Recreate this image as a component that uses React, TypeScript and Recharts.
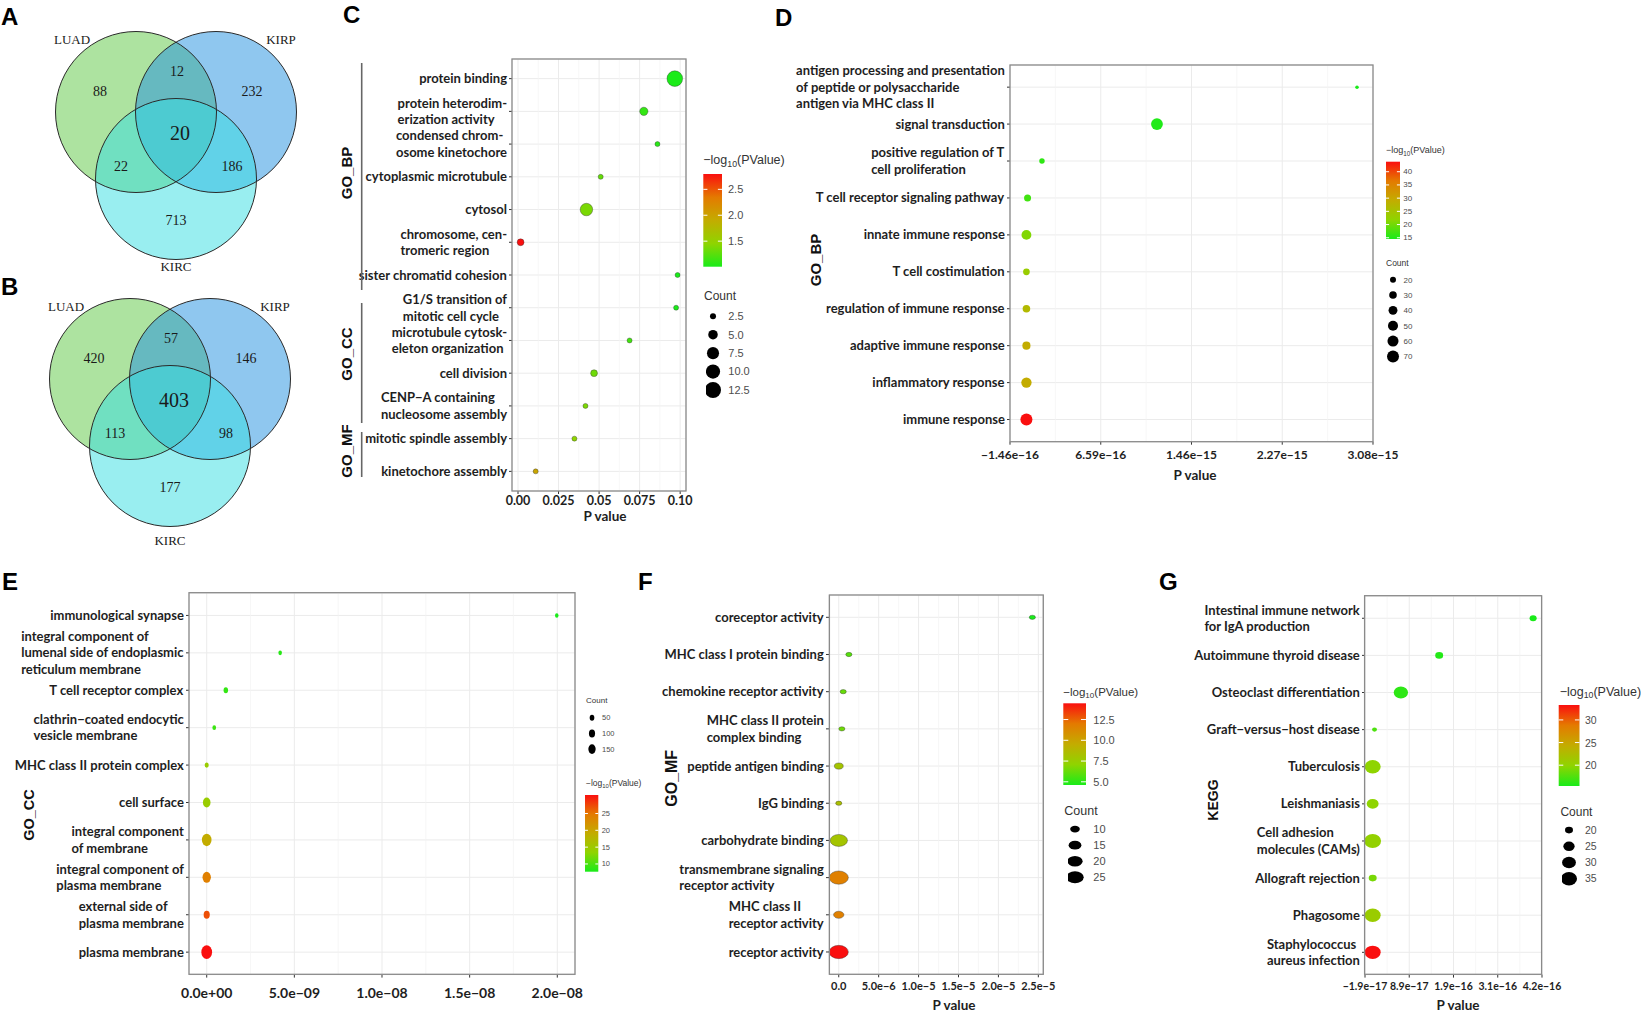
import React from "react";
import {
  CartesianGrid,
  ReferenceLine,
  Scatter,
  ScatterChart,
  XAxis,
  YAxis,
  ZAxis,
} from "recharts";

const M = "\u2212";

// ---- Venn data (region order: LUAD only, LUAD&KIRP, KIRP only, LUAD&KIRC, all, KIRP&KIRC, KIRC only)
const VENN_SETS = ["LUAD", "KIRP", "KIRC"];
const VENN_A_COUNTS = [88, 12, 232, 22, 20, 186, 713];
const VENN_B_COUNTS = [420, 57, 146, 113, 403, 98, 177];

// ---- C: GO terms
const C_TERMS = [
  "protein binding",
  "protein heterodim-\nerization activity",
  "condensed chrom-\nosome kinetochore",
  "cytoplasmic microtubule",
  "cytosol",
  "chromosome, cen-\ntromeric region",
  "sister chromatid cohesion",
  "G1/S transition of\nmitotic cell cycle",
  "microtubule cytosk-\neleton organization",
  "cell division",
  `CENP${M}A containing\nnucleosome assembly`,
  "mitotic spindle assembly",
  "kinetochore assembly",
];
const C_PVALUES = [0.0967, 0.0776, 0.086, 0.051, 0.0422, 0.0016, 0.0984, 0.0975, 0.0688, 0.0469, 0.0416, 0.0348, 0.0109];
const C_COUNTS = [12, 4, 2, 2, 8, 3, 2, 2, 2, 3, 2, 2, 2];
const C_X_TICKS = [0, 0.025, 0.05, 0.075, 0.1];
const C_X_LABELS = ["0.00", "0.025", "0.05", "0.075", "0.10"];
const C_BAR_TICKS = [1.5, 2.0, 2.5];
const C_BAR_LABELS = ["1.5", "2.0", "2.5"];
const C_SIZE_KEYS = [2.5, 5, 7.5, 10, 12.5];
const C_SIZE_LABELS = ["2.5", "5.0", "7.5", "10.0", "12.5"];

// ---- D: GO_BP
const D_TERMS = [
  "antigen processing and presentation\nof peptide or polysaccharide\nantigen via MHC class II",
  "signal transduction",
  "positive regulation of T\ncell proliferation",
  "T cell receptor signaling pathway",
  "innate immune response",
  "T cell costimulation",
  "regulation of immune response",
  "adaptive immune response",
  "inflammatory response",
  "immune response",
];
const D_PVALUES = [2.938e-15, 1.16e-15, 1.38e-16, 1e-17, 1e-21, 5e-24, 1.6e-27, 6e-30, 6e-30, 1.6e-44];
const D_COUNTS = [9, 68, 17, 26, 48, 24, 30, 34, 53, 70];
const D_X_LABELS = [`${M}1.46e${M}16`, `6.59e${M}16`, `1.46e${M}15`, `2.27e${M}15`, `3.08e${M}15`];
const D_BAR_TICKS = [15, 20, 25, 30, 35, 40];
const D_BAR_LABELS = ["15", "20", "25", "30", "35", "40"];
const D_SIZE_KEYS = [20, 30, 40, 50, 60, 70];
const D_SIZE_LABELS = ["20", "30", "40", "50", "60", "70"];

// ---- E: GO_CC
const E_TERMS = [
  "immunological synapse",
  "integral component of\nlumenal side of endoplasmic\nreticulum membrane",
  "T cell receptor complex",
  `clathrin${M}coated endocytic\nvesicle membrane`,
  "MHC class II protein complex",
  "cell surface",
  "integral component\nof membrane",
  "integral component of\nplasma membrane",
  "external side of\nplasma membrane",
  "plasma membrane",
];
const E_PVALUES = [1.997e-8, 4.19e-9, 1.09e-9, 4.3e-10, 3e-15, 3e-15, 8e-20, 8e-25, 8e-28, 3.2e-31];
const E_COUNTS = [20, 22, 45, 25, 35, 162, 269, 202, 99, 340];
const E_X_TICKS = [0, 5e-9, 1e-8, 1.5e-8, 2e-8];
const E_X_LABELS = ["0.0e+00", `5.0e${M}09`, `1.0e${M}08`, `1.5e${M}08`, `2.0e${M}08`];
const E_BAR_TICKS = [10, 15, 20, 25];
const E_BAR_LABELS = ["10", "15", "20", "25"];
const E_SIZE_KEYS = [50, 100, 150];
const E_SIZE_LABELS = ["50", "100", "150"];

// ---- F: GO_MF
const F_TERMS = [
  "coreceptor activity",
  "MHC class I protein binding",
  "chemokine receptor activity",
  "MHC class II protein\ncomplex binding",
  "peptide antigen binding",
  "IgG binding",
  "carbohydrate binding",
  "transmembrane signaling\nreceptor activity",
  "MHC class II\nreceptor activity",
  "receptor activity",
];
const F_PVALUES = [2.425e-5, 1.27e-6, 5.6e-7, 3.9e-7, 8.7e-9, 4.5e-9, 8.7e-9, 2e-12, 2e-12, 3.5e-15];
const F_COUNTS = [6, 6, 6, 6, 9, 6, 25, 30, 11, 30];
const F_X_TICKS = [0, 5e-6, 1e-5, 1.5e-5, 2e-5, 2.5e-5];
const F_X_LABELS = ["0.0", `5.0e${M}6`, `1.0e${M}5`, `1.5e${M}5`, `2.0e${M}5`, `2.5e${M}5`];
const F_BAR_TICKS = [5, 7.5, 10, 12.5];
const F_BAR_LABELS = ["5.0", "7.5", "10.0", "12.5"];
const F_SIZE_KEYS = [10, 15, 20, 25];
const F_SIZE_LABELS = ["10", "15", "20", "25"];

// ---- G: KEGG
const G_TERMS = [
  "Intestinal immune network\nfor IgA production",
  "Autoimmune thyroid disease",
  "Osteoclast differentiation",
  `Graft${M}versus${M}host disease`,
  "Tuberculosis",
  "Leishmaniasis",
  "Cell adhesion\nmolecules (CAMs)",
  "Allograft rejection",
  "Phagosome",
  "Staphylococcus\naureus infection",
];
const G_PVALUES = [3.98e-16, 1.65e-16, 7.0e-17, 4.6e-18, 1.3e-20, 1.3e-20, 6e-21, 1e-19, 1.6e-21, 5e-34];
const G_COUNTS = [19, 20, 31, 17, 35, 26, 37, 20, 35, 35];
const G_X_LABELS = [`${M}1.9e${M}17`, `8.9e${M}17`, `1.9e${M}16`, `3.1e${M}16`, `4.2e${M}16`];
const G_BAR_TICKS = [20, 25, 30];
const G_BAR_LABELS = ["20", "25", "30"];
const G_SIZE_KEYS = [20, 25, 30, 35];
const G_SIZE_LABELS = ["20", "25", "30", "35"];

// ---------------- layout & style ----------------
const LABEL_FONT = "Lato, 'Liberation Sans', sans-serif";
const LEGEND_FONT = "'Liberation Sans', Arial, sans-serif";
const SERIF = "'Liberation Serif', 'DejaVu Serif', serif";

const VENN_FILLS = ["#5cc742", "#1f90e0", "#33dde2"];
const VENN_R = 80.5;
const VENN_CIRCLE_OFFSETS = [[-40, 0], [40, 0], [0, 67]];
const VENN_REGION_OFFSETS = [[-76, -21], [1, -41], [76, -21], [-55, 54], [4, 21], [56, 54], [0, 108]];

const RAMP: [number, number[]][] = [
  [0, [25, 235, 25]],
  [0.25, [143, 212, 0]],
  [0.5, [195, 172, 0]],
  [0.75, [228, 122, 0]],
  [1, [250, 15, 15]],
];

function rampColor(t: number) {
  const u = Math.max(0, Math.min(1, t));
  for (let i = 1; i < RAMP.length; i++) {
    const [t1, c1] = RAMP[i];
    const [t0, c0] = RAMP[i - 1];
    if (u <= t1) {
      const k = (u - t0) / (t1 - t0);
      const c = c0.map((v, j) => Math.round(v + (c1[j] - v) * k));
      return `rgb(${c[0]},${c[1]},${c[2]})`;
    }
  }
  return "rgb(250,15,15)";
}

function evenTicks(domain: number[], n: number) {
  const [a, b] = domain;
  return Array.from({ length: n }, (_, i) => (i === n - 1 ? b : a + ((b - a) * i) / (n - 1)));
}

function midpoints(ticks: number[]) {
  return ticks.slice(1).map((t, i) => (t + ticks[i]) / 2);
}

let measureCtx: CanvasRenderingContext2D | null = null;
function textWidth(s: string, size: number) {
  if (!measureCtx) measureCtx = document.createElement("canvas").getContext("2d");
  if (!measureCtx) return s.length * size * 0.5;
  measureCtx.font = `700 ${size}px Lato`;
  return measureCtx.measureText(s).width;
}

const C_LAYOUT = {
  plot: { x: 512, y: 59, w: 174, h: 432 },
  yw: 160, xDomain: [-0.0037, 0.1036], tickFont: 12.5, tickMargin: 2, labelFont: 13,
  size: { a0: -14.9, slope: 17.27, ax: 1, ay: 1 }, outline: true,
  title: { x: 605, y: 516 },
  bar: { x: 703.3, y: 174, w: 18.7, h: 92.7, labelX: 728, font: 11 },
  barTitle: { x: 703.3, y: 160, font: 12.5 },
  countTitle: { x: 704, y: 296, font: 12 },
  keys: { x: 712.7, y0: 316, step: 18.45, labelX: 728, font: 11 },
};
const D_LAYOUT = {
  plot: { x: 1010, y: 65, w: 363, h: 376.7 },
  yw: 215, xDomain: [-1.46e-16, 3.08e-15], tickFont: 12, tickMargin: 6, labelFont: 13,
  size: { a0: -5.6, slope: 1.696, ax: 1, ay: 1 }, outline: false,
  title: { x: 1195, y: 475 },
  bar: { x: 1386, y: 161.7, w: 14, h: 77.3, labelX: 1403.3, font: 8 },
  barTitle: { x: 1386, y: 150, font: 9 },
  countTitle: { x: 1386, y: 262.7, font: 8.5 },
  keys: { x: 1392.7, y0: 280, step: 15.35, labelX: 1403.3, font: 8 },
};
const E_LAYOUT = {
  plot: { x: 189, y: 592.7, w: 386, h: 381.6 },
  yw: 180, xDomain: [-1.01e-9, 2.101e-8], tickFont: 14, tickMargin: 10, labelFont: 13,
  size: { a0: 4.5, slope: 0.252, ax: 1, ay: 1.3 }, outline: false,
  title: null,
  bar: { x: 585, y: 795, w: 13.3, h: 76.7, labelX: 601.7, font: 7.5 },
  barTitle: { x: 586, y: 783.3, font: 8.5 },
  countTitle: { x: 586, y: 700.7, font: 8 },
  keys: { x: 591.7, y0: 717.7, step: 15.65, labelX: 601.7, font: 7.5 },
};
const F_LAYOUT = {
  plot: { x: 829.4, y: 595, w: 213.9, h: 379.3 },
  yw: 175, xDomain: [-1.22e-6, 2.557e-5], tickFont: 11, tickMargin: 5, labelFont: 13,
  size: { a0: -17, slope: 5.2, ax: 1.45, ay: 1 }, outline: true,
  title: { x: 954, y: 1005 },
  bar: { x: 1063.3, y: 703.3, w: 22.7, h: 81.7, labelX: 1093.3, font: 11 },
  barTitle: { x: 1063.3, y: 691.7, font: 11.5 },
  countTitle: { x: 1064.3, y: 810.7, font: 12.5 },
  keys: { x: 1075, y0: 829, step: 16.1, labelX: 1093.3, font: 11 },
};
const G_LAYOUT = {
  plot: { x: 1364.6, y: 595.7, w: 177, h: 378.6 },
  yw: 180, xDomain: [-1.9e-17, 4.2e-16], tickFont: 10.5, tickMargin: 5, labelFont: 13,
  size: { a0: -106.6, slope: 7.05, ax: 1.2, ay: 1 }, outline: false,
  title: { x: 1458, y: 1005 },
  bar: { x: 1558.7, y: 705, w: 20.8, h: 81, labelX: 1585, font: 10.5 },
  barTitle: { x: 1559.7, y: 691.7, font: 12.5 },
  countTitle: { x: 1560.4, y: 812, font: 12 },
  keys: { x: 1569, y0: 830.3, step: 16.2, labelX: 1585, font: 10.5 },
};

const PANELS = [
  { id: "C", terms: C_TERMS, pvalues: C_PVALUES, counts: C_COUNTS, xTicks: C_X_TICKS, xLabels: C_X_LABELS,
    barTicks: C_BAR_TICKS, barLabels: C_BAR_LABELS, keys: C_SIZE_KEYS, keyLabels: C_SIZE_LABELS, layout: C_LAYOUT },
  { id: "D", terms: D_TERMS, pvalues: D_PVALUES, counts: D_COUNTS, xTicks: evenTicks(D_LAYOUT.xDomain, D_X_LABELS.length), xLabels: D_X_LABELS,
    barTicks: D_BAR_TICKS, barLabels: D_BAR_LABELS, keys: D_SIZE_KEYS, keyLabels: D_SIZE_LABELS, layout: D_LAYOUT },
  { id: "E", terms: E_TERMS, pvalues: E_PVALUES, counts: E_COUNTS, xTicks: E_X_TICKS, xLabels: E_X_LABELS,
    barTicks: E_BAR_TICKS, barLabels: E_BAR_LABELS, keys: E_SIZE_KEYS, keyLabels: E_SIZE_LABELS, layout: E_LAYOUT },
  { id: "F", terms: F_TERMS, pvalues: F_PVALUES, counts: F_COUNTS, xTicks: F_X_TICKS, xLabels: F_X_LABELS,
    barTicks: F_BAR_TICKS, barLabels: F_BAR_LABELS, keys: F_SIZE_KEYS, keyLabels: F_SIZE_LABELS, layout: F_LAYOUT },
  { id: "G", terms: G_TERMS, pvalues: G_PVALUES, counts: G_COUNTS, xTicks: evenTicks(G_LAYOUT.xDomain, G_X_LABELS.length), xLabels: G_X_LABELS,
    barTicks: G_BAR_TICKS, barLabels: G_BAR_LABELS, keys: G_SIZE_KEYS, keyLabels: G_SIZE_LABELS, layout: G_LAYOUT },
];

const PANEL_LETTERS: [string, number, number][] = [
  ["A", 1, 25], ["B", 1, 295], ["C", 343, 23], ["D", 775, 26], ["E", 2, 590], ["F", 638, 590], ["G", 1159, 590],
];

const GROUP_LABELS = [
  { text: "GO_BP", x: 346, y: 173, size: 15, bracket: [63, 290], bx: 361.7 },
  { text: "GO_CC", x: 346, y: 354, size: 15, bracket: [303, 423], bx: 361.7 },
  { text: "GO_MF", x: 346, y: 451, size: 15, bracket: [432, 477], bx: 361.7 },
  { text: "GO_BP", x: 815.5, y: 260, size: 15 },
  { text: "GO_CC", x: 28.7, y: 815, size: 14.5 },
  { text: "GO_MF", x: 671.7, y: 778.3, size: 16 },
  { text: "KEGG", x: 1212.8, y: 800, size: 14 },
];

// ---------------- pieces ----------------
function RowTick(props: any) {
  const { x, y, payload, terms, fontSize } = props;
  const label: string = terms[Math.round(payload.value)] ?? "";
  const lines = label.split("\n");
  const bw = Math.max(...lines.map((l) => textWidth(l, fontSize)));
  const lh = fontSize * 1.27;
  return (
    <g>
      {lines.map((l, i) => (
        <text
          key={i}
          x={x - bw}
          y={y + (i - (lines.length - 1) / 2) * lh}
          dy="0.35em"
          textAnchor="start"
          style={{ fontFamily: LABEL_FONT, fontWeight: 700, fontSize, fill: "#1e1e1e" }}
        >
          {l}
        </text>
      ))}
    </g>
  );
}

function bubbleShape(vmin: number, vmax: number, ax: number, ay: number, outline: boolean, black = false) {
  return (props: any) => {
    const { cx, cy, payload } = props;
    if (cx == null || cy == null) return <g />;
    const r = props.width ? props.width / 2 : Math.sqrt(Math.max(props.size || 0, 0) / Math.PI);
    const fill = black ? "#000" : rampColor((payload.logp - vmin) / (vmax - vmin));
    return (
      <ellipse
        cx={cx}
        cy={cy}
        rx={r * ax}
        ry={r * ay}
        fill={fill}
        stroke={outline && !black ? "rgba(50,50,50,0.55)" : "none"}
        strokeWidth={0.7}
      />
    );
  };
}

function logRange(pvalues: number[]) {
  const logs = pvalues.map((p) => -Math.log10(p));
  return [Math.min(...logs), Math.max(...logs)];
}

function BubblePanel({ panel }: { panel: any }) {
  const L = panel.layout;
  const n = panel.terms.length;
  const data = panel.terms.map((term: string, i: number) => ({
    term,
    row: i,
    p: panel.pvalues[i],
    count: panel.counts[i],
    logp: -Math.log10(panel.pvalues[i]),
  }));
  const [vmin, vmax] = logRange(panel.pvalues);
  const cmin = Math.min(...panel.counts);
  const cmax = Math.max(...panel.counts);
  const area = (c: number) => L.size.a0 + L.size.slope * c;
  const rows = data.map((d: any) => d.row);
  const top = 24;
  const bottom = 46;
  const right = 40;
  return (
    <div style={{ position: "absolute", left: L.plot.x - L.yw, top: L.plot.y - top }}>
      <ScatterChart
        width={L.yw + L.plot.w + right}
        height={top + L.plot.h + bottom}
        margin={{ top, right, bottom: 0, left: 0 }}
      >
        <CartesianGrid stroke="#ebebeb" strokeWidth={1} />
        {midpoints(panel.xTicks).map((v: number) => (
          <ReferenceLine key={v} x={v} stroke="#f3f3f3" strokeWidth={0.7} />
        ))}
        <XAxis
          type="number"
          dataKey="p"
          domain={L.xDomain}
          ticks={panel.xTicks}
          interval={0}
          height={bottom}
          axisLine={false}
          tickSize={3}
          tickMargin={L.tickMargin}
          tickLine={{ stroke: "#333" }}
          tick={{ fontFamily: LABEL_FONT, fontWeight: 700, fontSize: L.tickFont, fill: "#1e1e1e" }}
          tickFormatter={(_v: any, i: number) => panel.xLabels[i] ?? ""}
        />
        <YAxis
          type="number"
          dataKey="row"
          domain={[-0.6, n - 0.4]}
          reversed
          ticks={rows}
          interval={0}
          width={L.yw}
          axisLine={false}
          tickSize={3}
          tickMargin={2}
          tickLine={{ stroke: "#333" }}
          tick={(props: any) => <RowTick {...props} terms={panel.terms} fontSize={L.labelFont} />}
        />
        <ZAxis type="number" dataKey="count" domain={[cmin, cmax]} range={[area(cmin), area(cmax)]} />
        <Scatter
          data={data}
          isAnimationActive={false}
          shape={bubbleShape(vmin, vmax, L.size.ax, L.size.ay, L.outline)}
        />
      </ScatterChart>
    </div>
  );
}

function SizeKeys({ panel }: { panel: any }) {
  const L = panel.layout;
  const K = L.keys;
  const n = panel.keys.length;
  const data = panel.keys.map((k: number, i: number) => ({ x: 0.5, y: i, count: k }));
  const kmin = Math.min(...panel.keys);
  const kmax = Math.max(...panel.keys);
  const area = (c: number) => L.size.a0 + L.size.slope * c;
  const half = 7;
  return (
    <div style={{ position: "absolute", left: K.x - half, top: K.y0 - K.step / 2 }}>
      <ScatterChart width={half * 2 + 40} height={n * K.step} margin={{ top: 0, right: 0, bottom: 0, left: 0 }}>
        <XAxis type="number" dataKey="x" domain={[0, 1]} hide height={0} />
        <YAxis
          type="number"
          dataKey="y"
          orientation="right"
          domain={[-0.5, n - 0.5]}
          reversed
          ticks={data.map((d: any) => d.y)}
          interval={0}
          width={40}
          axisLine={false}
          tickLine={false}
          tickSize={0}
          tickMargin={K.labelX - K.x - half}
          tick={{ fontFamily: LEGEND_FONT, fontSize: K.font, fill: "#4d4d4d" }}
          tickFormatter={(_v: any, i: number) => panel.keyLabels[i] ?? ""}
        />
        <ZAxis type="number" dataKey="count" domain={[kmin, kmax]} range={[area(kmin), area(kmax)]} />
        <Scatter data={data} isAnimationActive={false} shape={bubbleShape(0, 1, L.size.ax, L.size.ay, false, true)} />
      </ScatterChart>
    </div>
  );
}

function VennChart({ counts, origin, kircOffset }: { counts: number[]; origin: number[]; kircOffset: number }) {
  const W = 340;
  const H = 300;
  const up = 120;
  const nameOffsets = [[-104, -73], [105, -73], [0, kircOffset]];
  const circles = VENN_SETS.map((set, i) => ({ set, x: VENN_CIRCLE_OFFSETS[i][0], y: VENN_CIRCLE_OFFSETS[i][1] }));
  const regions = counts.map((c, i) => ({ label: String(c), center: i === 4, x: VENN_REGION_OFFSETS[i][0], y: VENN_REGION_OFFSETS[i][1] }));
  const names = VENN_SETS.map((set, i) => ({ label: set, x: nameOffsets[i][0], y: nameOffsets[i][1] }));
  return (
    <div style={{ position: "absolute", left: origin[0] - W / 2, top: origin[1] - up }}>
      <ScatterChart width={W} height={H} margin={{ top: 0, right: 0, bottom: 0, left: 0 }}>
        <XAxis type="number" dataKey="x" domain={[-W / 2, W / 2]} hide height={0} />
        <YAxis type="number" dataKey="y" domain={[-up, H - up]} reversed hide width={0} />
        <Scatter
          data={circles}
          isAnimationActive={false}
          shape={(p: any) => (
            <circle cx={p.cx} cy={p.cy} r={VENN_R} fill={VENN_FILLS[VENN_SETS.indexOf(p.payload.set)]} fillOpacity={0.5} />
          )}
        />
        <Scatter
          data={circles}
          isAnimationActive={false}
          shape={(p: any) => <circle cx={p.cx} cy={p.cy} r={VENN_R} fill="none" stroke="#2a2a2a" strokeWidth={1} />}
        />
        <Scatter
          data={regions}
          isAnimationActive={false}
          shape={(p: any) => (
            <text
              x={p.cx}
              y={p.cy}
              textAnchor="middle"
              dominantBaseline="central"
              style={{ fontFamily: SERIF, fontSize: p.payload.center ? 20 : 14, fill: "#1a1a1a" }}
            >
              {p.payload.label}
            </text>
          )}
        />
        <Scatter
          data={names}
          isAnimationActive={false}
          shape={(p: any) => (
            <text
              x={p.cx}
              y={p.cy}
              textAnchor="middle"
              dominantBaseline="central"
              style={{ fontFamily: SERIF, fontSize: 13, fill: "#1a1a1a" }}
            >
              {p.payload.label}
            </text>
          )}
        />
      </ScatterChart>
    </div>
  );
}

function LogTitle({ x, y, size }: { x: number; y: number; size: number }) {
  return (
    <text x={x} y={y} dominantBaseline="central" style={{ fontFamily: LEGEND_FONT, fontSize: size, fill: "#333" }}>
      {`${M}log`}
      <tspan fontSize={size * 0.7} dy={size * 0.28}>10</tspan>
      <tspan dy={-size * 0.28}>(PValue)</tspan>
    </text>
  );
}

function Legend({ panel }: { panel: any }) {
  const L = panel.layout;
  const B = L.bar;
  const [vmin, vmax] = logRange(panel.pvalues);
  const gid = `grad${panel.id}`;
  const yOf = (v: number) => B.y + ((vmax - v) / (vmax - vmin)) * B.h;
  return (
    <g>
      <defs>
        <linearGradient id={gid} x1="0" y1="1" x2="0" y2="0">
          {RAMP.map(([t]) => (
            <stop key={t} offset={t} stopColor={rampColor(t)} />
          ))}
        </linearGradient>
      </defs>
      <LogTitle x={L.barTitle.x} y={L.barTitle.y} size={L.barTitle.font} />
      <rect x={B.x} y={B.y} width={B.w} height={B.h} fill={`url(#${gid})`} />
      {panel.barTicks.map((v: number, i: number) => (
        <g key={v}>
          <line x1={B.x} x2={B.x + B.w * 0.22} y1={yOf(v)} y2={yOf(v)} stroke="#fff" strokeWidth={1} />
          <line x1={B.x + B.w * 0.78} x2={B.x + B.w} y1={yOf(v)} y2={yOf(v)} stroke="#fff" strokeWidth={1} />
          <text
            x={B.labelX}
            y={yOf(v)}
            dominantBaseline="central"
            style={{ fontFamily: LEGEND_FONT, fontSize: B.font, fill: "#4d4d4d" }}
          >
            {panel.barLabels[i]}
          </text>
        </g>
      ))}
      <text
        x={L.countTitle.x}
        y={L.countTitle.y}
        dominantBaseline="central"
        style={{ fontFamily: LEGEND_FONT, fontSize: L.countTitle.font, fill: "#333" }}
      >
        Count
      </text>
    </g>
  );
}

export default function App() {
  return (
    <div
      style={{
        position: "absolute",
        left: 0,
        top: 0,
        width: 1644,
        height: 1011,
        background: "#fff",
        overflow: "hidden",
      }}
    >
      <VennChart counts={VENN_A_COUNTS} origin={[176.3, 111.7]} kircOffset={154} />
      <VennChart counts={VENN_B_COUNTS} origin={[170, 379]} kircOffset={161} />
      {PANELS.map((p) => (
        <BubblePanel key={p.id} panel={p} />
      ))}
      {PANELS.map((p) => (
        <SizeKeys key={`k${p.id}`} panel={p} />
      ))}
      <svg
        width={1644}
        height={1011}
        style={{ position: "absolute", left: 0, top: 0, pointerEvents: "none" }}
      >
        {PANELS.map((p) => {
          const P = p.layout.plot;
          return (
            <rect key={`b${p.id}`} x={P.x} y={P.y} width={P.w} height={P.h} fill="none" stroke="#8a8a8a" strokeWidth={1.3} />
          );
        })}
        {PANELS.map((p) =>
          p.layout.title ? (
            <text
              key={`t${p.id}`}
              x={p.layout.title.x}
              y={p.layout.title.y}
              textAnchor="middle"
              dominantBaseline="central"
              style={{ fontFamily: LABEL_FONT, fontWeight: 700, fontSize: 13.5, fill: "#1e1e1e" }}
            >
              P value
            </text>
          ) : null
        )}
        {PANELS.map((p) => (
          <Legend key={`l${p.id}`} panel={p} />
        ))}
        {GROUP_LABELS.map((g, i) => (
          <g key={`g${i}`}>
            <text
              x={g.x}
              y={g.y}
              textAnchor="middle"
              dominantBaseline="central"
              transform={`rotate(-90 ${g.x} ${g.y})`}
              style={{ fontFamily: LEGEND_FONT, fontWeight: 700, fontSize: g.size, fill: "#111" }}
            >
              {g.text}
            </text>
            {g.bracket ? (
              <line x1={g.bx} x2={g.bx} y1={g.bracket[0]} y2={g.bracket[1]} stroke="#666" strokeWidth={1.6} />
            ) : null}
          </g>
        ))}
        {PANEL_LETTERS.map(([t, x, y]) => (
          <text key={t} x={x} y={y} style={{ fontFamily: LEGEND_FONT, fontWeight: 700, fontSize: 24, fill: "#000" }}>
            {t}
          </text>
        ))}
      </svg>
    </div>
  );
}
